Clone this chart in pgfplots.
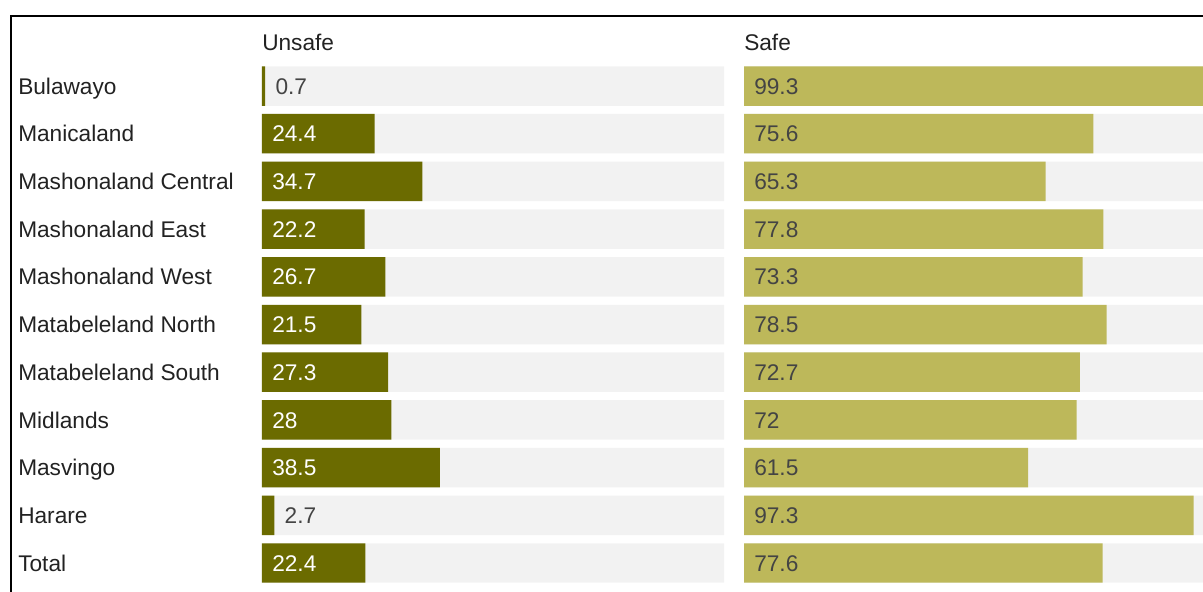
\documentclass[border=0pt]{standalone}
\usepackage{pgfplots}
\usepackage{pgfplotstable}
\pgfplotsset{compat=1.18}
\usepackage{fontspec}
\setmainfont{Liberation Sans}
\definecolor{unsafec}{HTML}{6B6B00}
\definecolor{safec}{HTML}{BDB85A}
\definecolor{bgc}{HTML}{F2F2F2}
\definecolor{labc}{HTML}{222222}
\definecolor{valc}{HTML}{444444}
\newcommand{\fnt}{\fontsize{17pt}{20pt}\selectfont}
\pgfplotstableread{
idx unsafe safe track
0 0.7 99.3 100
1 24.4 75.6 100
2 34.7 65.3 100
3 22.2 77.8 100
4 26.7 73.3 100
5 21.5 78.5 100
6 27.3 72.7 100
7 28 72 100
8 38.5 61.5 100
9 2.7 97.3 100
10 22.4 77.6 100
}\data
\pgfplotsset{
  panel/.style={
    anchor=south west, width=346.5pt, height=393.5pt, scale only axis,
    xbar, xmin=0, xmax=100, ymin=-0.5, ymax=10.5, y dir=reverse,
    axis line style={draw=none}, xtick=\empty, ytick={0,...,10},
    major tick length=0pt, clip=false, bar width=29.6pt,
    title style={at={(0,1)}, anchor=base west, yshift=2.4pt, inner sep=0pt, font=\fnt, text=labc},
  },
  vlab/.style={draw=none, fill=none, bar shift=0pt, nodes near coords,
    point meta=explicit symbolic,
    nodes near coords style={anchor=west, inner sep=0pt, xshift=7.5pt, font=\fnt, text height=12.2pt, text depth=0pt, text=#1}},
}
\begin{document}
\begin{tikzpicture}
\draw[line width=1.5pt, black] (7.9pt,-2pt) -- (7.9pt,432pt) -- (905pt,432pt);
% Unsafe panel
\begin{axis}[panel, at={(196.5pt,3.86pt)}, title={Unsafe},
  yticklabels={Bulawayo,Manicaland,Mashonaland Central,Mashonaland East,Mashonaland West,Matabeleland North,Matabeleland South,Midlands,Masvingo,Harare,Total},
  yticklabel style={anchor=west, xshift=-183pt, inner sep=0pt, font=\fnt, text=labc, text height=12.2pt, text depth=0pt}]
\addplot[fill=bgc, draw=none, bar shift=0pt] table[x=track, y=idx] {\data};
\addplot[fill=unsafec, draw=none, bar shift=0pt] table[x=unsafe, y=idx] {\data};
\addplot[vlab=white] table[x expr={\thisrow{unsafe}<5 ? nan : 0}, y=idx, meta=unsafe] {\data};
\addplot[vlab=valc] table[x expr={\thisrow{unsafe}<5 ? \thisrow{unsafe} : nan}, y=idx, meta=unsafe] {\data};
\end{axis}
% Safe panel
\begin{axis}[panel, at={(558pt,3.86pt)}, title={Safe}, yticklabels={}]
\addplot[fill=bgc, draw=none, bar shift=0pt] table[x=track, y=idx] {\data};
\addplot[fill=safec, draw=none, bar shift=0pt] table[x=safe, y=idx] {\data};
\addplot[vlab=valc] table[x expr=0, y=idx, meta=safe] {\data};
\end{axis}
\pgfresetboundingbox
\useasboundingbox (0,0) rectangle (902.25pt,444pt);
\end{tikzpicture}
\end{document}
